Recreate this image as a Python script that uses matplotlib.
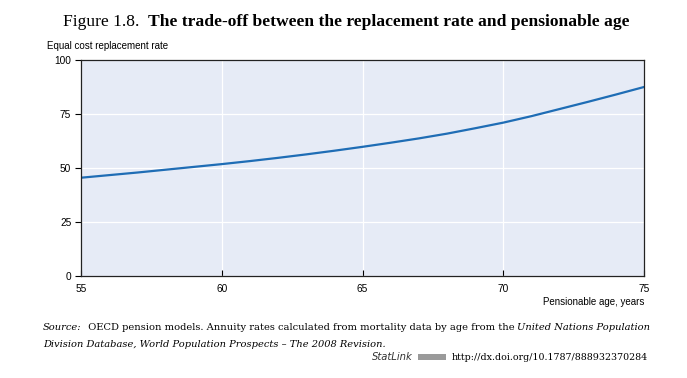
import matplotlib
matplotlib.use('Agg')
import matplotlib.pyplot as plt
from matplotlib.patches import Rectangle

# Data
ages = [55, 56, 57, 58, 59, 60, 61, 62, 63, 64, 65, 66, 67, 68, 69, 70, 71, 72, 73, 74, 75]
replacement_rate = [45.5, 46.7, 47.9, 49.2, 50.5, 51.8, 53.2, 54.7, 56.3, 58.0, 59.8,
                    61.7, 63.7, 65.9, 68.4, 71.0, 74.0, 77.3, 80.6, 84.0, 87.5]
x_ticks = [55, 60, 65, 70, 75]
y_ticks = [0, 25, 50, 75, 100]

sans = 'Liberation Sans'
serif = 'DejaVu Serif'

fig = plt.figure(figsize=(6.87, 3.78), dpi=100)
W, H = 687, 378
ax = fig.add_axes([81 / W, 1 - 276 / H, (644 - 81) / W, (276 - 60) / H])

ax.set_facecolor('#e6ebf6')
ax.plot(ages, replacement_rate, color='#1f6db5', linewidth=1.6)
ax.set_xlim(55, 75)
ax.set_ylim(0, 100)
ax.set_xticks(x_ticks)
ax.set_yticks(y_ticks)
ax.grid(True, color='white', linewidth=0.9)
ax.set_axisbelow(True)
for s in ax.spines.values():
    s.set_color('#222222')
    s.set_linewidth(0.9)
ax.tick_params(axis='y', direction='out', length=4, width=0.8, labelsize=7.3, pad=3)
ax.tick_params(axis='x', direction='in', length=4, width=0.8, labelsize=7.3, pad=6)
for lab in ax.get_xticklabels() + ax.get_yticklabels():
    lab.set_fontfamily(sans)

fig.text(47 / W, 1 - 46 / H, 'Equal cost replacement rate', fontsize=7.0, family=sans,
         ha='left', va='center')
fig.text(644 / W, 1 - 302 / H, 'Pensionable age, years', fontsize=7.0, family=sans,
         ha='right', va='center')

fig.canvas.draw()
renderer = fig.canvas.get_renderer()


def run_text(x, y, pieces, family=serif):
    # draw text pieces one after another on a line (x, y in pixels from top-left)
    for txt, style, weight, size in pieces:
        t = fig.text(x / W, 1 - y / H, txt, fontsize=size, family=family, style=style,
                     weight=weight, ha='left', va='baseline')
        bb = t.get_window_extent(renderer)
        x += bb.width


run_text(63, 26, [('Figure 1.8.  ', 'normal', 'normal', 12.6),
                  ('The trade-off between the replacement rate and pensionable age', 'normal', 'bold', 12.6)],
         family='Liberation Serif')

run_text(43, 330, [('Source:', 'italic', 'normal', 7.1),
                   ('  OECD pension models. Annuity rates calculated from mortality data by age from the ',
                    'normal', 'normal', 7.1),
                   ('United Nations Population', 'italic', 'normal', 7.1)])
run_text(43, 347, [('Division Database, World Population Prospects – The 2008 Revision.', 'italic', 'normal', 7.1)])

fig.text(648 / W, 1 - 360 / H, 'http://dx.doi.org/10.1787/888932370284', fontsize=6.8,
         family=serif, ha='right', va='baseline')
# small StatLink logo
fig.patches.append(Rectangle((418 / W, 1 - 360 / H), 28 / W, 6 / H, transform=fig.transFigure,
                             facecolor='#9a9a9a', edgecolor='none'))
fig.text(413 / W, 1 - 360 / H, 'StatLink', fontsize=7.2, family='DejaVu Sans',
         style='italic', ha='right', va='baseline', color='#333333')

fig.savefig('out.png', dpi=100)
